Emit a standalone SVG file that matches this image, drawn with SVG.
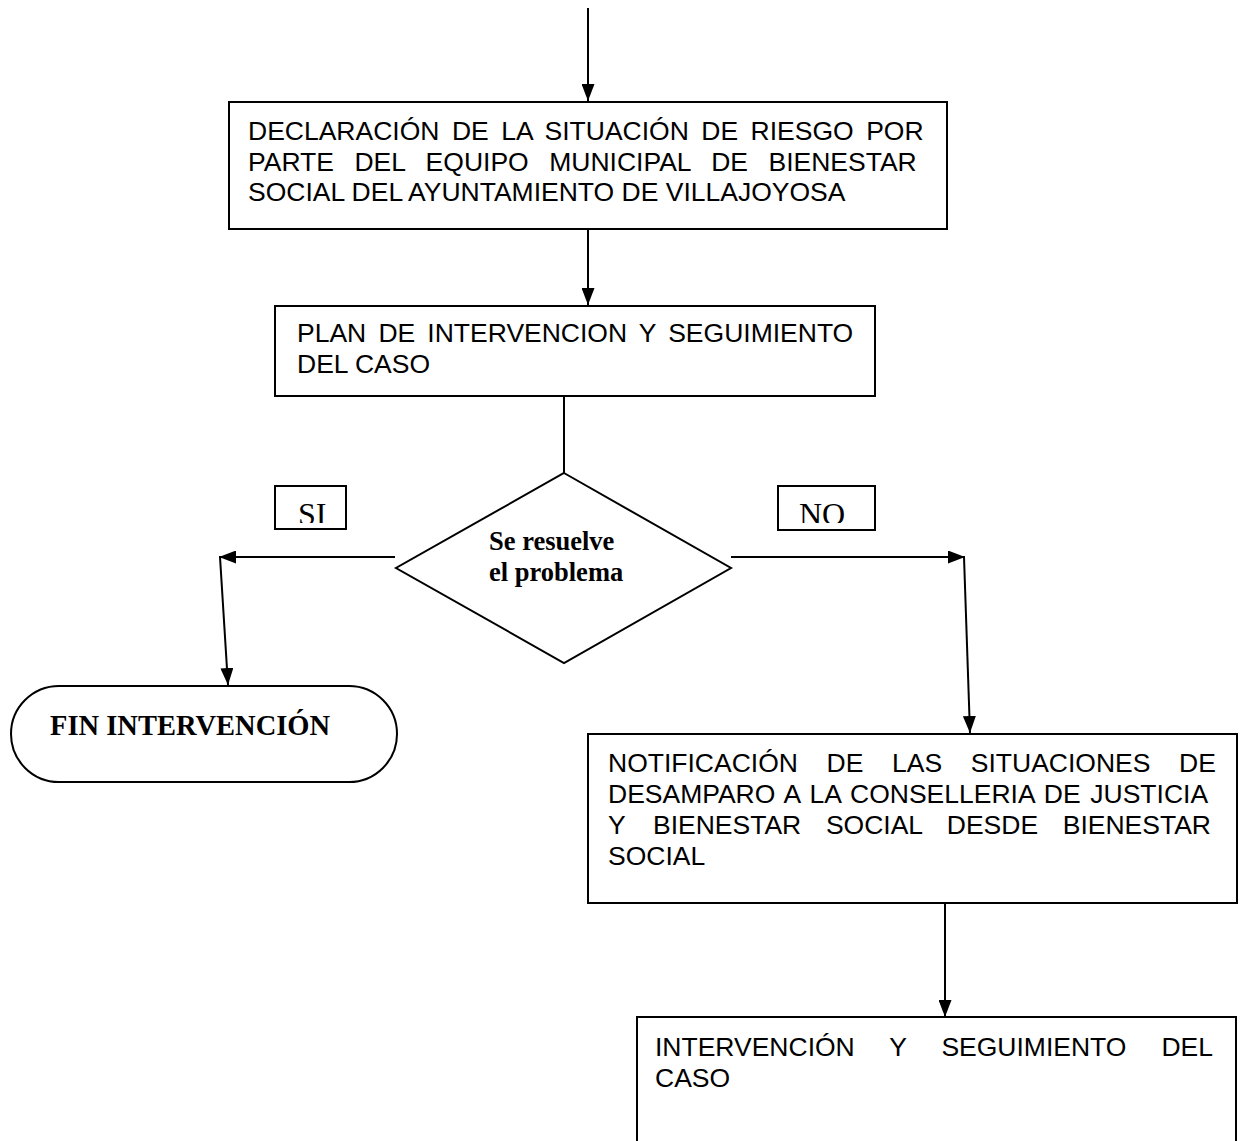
<svg xmlns="http://www.w3.org/2000/svg" width="1248" height="1141" viewBox="0 0 1248 1141">
<style>
.box{fill:#fff;stroke:#000;stroke-width:2}
.ln{fill:none;stroke:#000;stroke-width:2}
.t{font-family:"Liberation Sans",Arial,sans-serif;font-size:26.5px;fill:#000}
.tb{font-family:"Liberation Serif","Times New Roman",serif;font-weight:bold;fill:#000}
.tr{font-family:"Liberation Serif","Times New Roman",serif;fill:#000}
</style>
<defs>
<marker id="ah" markerUnits="userSpaceOnUse" markerWidth="17" markerHeight="13" viewBox="0 0 17 13" refX="17" refY="6.5" orient="auto">
<path d="M0,0 L17,6.5 L0,13 Z" fill="#000"/>
</marker>
<clipPath id="cSI"><rect x="275" y="487" width="70" height="36"/></clipPath>
<clipPath id="cNO"><rect x="779" y="487" width="96" height="36"/></clipPath>
</defs>
<rect width="1248" height="1141" fill="#fff"/>
<g id="connectors">
<line class="ln" x1="588" y1="8" x2="588" y2="101" marker-end="url(#ah)"/>
<line class="ln" x1="588" y1="230" x2="588" y2="305" marker-end="url(#ah)"/>
<line class="ln" x1="564" y1="397" x2="564" y2="473"/>
<line class="ln" x1="395" y1="557" x2="219" y2="557" marker-end="url(#ah)"/>
<line class="ln" x1="220" y1="557" x2="228" y2="685" marker-end="url(#ah)"/>
<line class="ln" x1="731" y1="557" x2="965" y2="557" marker-end="url(#ah)"/>
<line class="ln" x1="964" y1="557" x2="970" y2="733" marker-end="url(#ah)"/>
<line class="ln" x1="945" y1="903" x2="945" y2="1017" marker-end="url(#ah)"/>
</g>
<g id="n1">
<rect class="box" x="229" y="102" width="718" height="127"/>
<text class="t" x="248" y="140" word-spacing="5.1">DECLARACIÓN DE LA SITUACIÓN DE RIESGO POR</text>
<text class="t" x="248" y="171" word-spacing="13.2">PARTE DEL EQUIPO MUNICIPAL DE BIENESTAR</text>
<text class="t" x="248" y="201">SOCIAL DEL AYUNTAMIENTO DE VILLAJOYOSA</text>
</g>
<g id="n2">
<rect class="box" x="275" y="306" width="600" height="90"/>
<text class="t" x="297" y="342" word-spacing="4.8">PLAN DE INTERVENCION Y SEGUIMIENTO</text>
<text class="t" x="297" y="373">DEL CASO</text>
</g>
<g id="n3">
<polygon class="box" points="564,473 731,568 564,663 396,568"/>
<text class="tb" x="489" y="550" font-size="26.5">Se resuelve</text>
<text class="tb" x="489" y="581" font-size="26.5">el problema</text>
</g>
<g id="lblSI">
<rect class="box" x="275" y="486" width="71" height="43"/>
<text class="tr" x="298" y="525" font-size="32" clip-path="url(#cSI)">SI</text>
</g>
<g id="lblNO">
<rect class="box" x="778" y="486" width="97" height="44"/>
<text class="tr" x="799" y="525" font-size="32" clip-path="url(#cNO)">NO</text>
</g>
<g id="n4">
<rect class="box" x="11" y="686" width="386" height="96" rx="48" ry="48"/>
<text class="tb" x="50" y="735" font-size="28.5">FIN INTERVENCIÓN</text>
</g>
<g id="n5">
<rect class="box" x="588" y="734" width="649" height="169"/>
<text class="t" x="608" y="772" word-spacing="21.3">NOTIFICACIÓN DE LAS SITUACIONES DE</text>
<text class="t" x="608" y="803" word-spacing="2.3">DESAMPARO A LA CONSELLERIA DE JUSTICIA</text>
<text class="t" x="608" y="834">Y</text>
<text class="t" x="653" y="834" word-spacing="17.3">BIENESTAR SOCIAL DESDE BIENESTAR</text>
<text class="t" x="608" y="865">SOCIAL</text>
</g>
<g id="n6">
<rect class="box" x="637" y="1017" width="599" height="140"/>
<text class="t" x="655" y="1056" word-spacing="27.6">INTERVENCIÓN Y SEGUIMIENTO DEL</text>
<text class="t" x="655" y="1087">CASO</text>
</g>
</svg>
